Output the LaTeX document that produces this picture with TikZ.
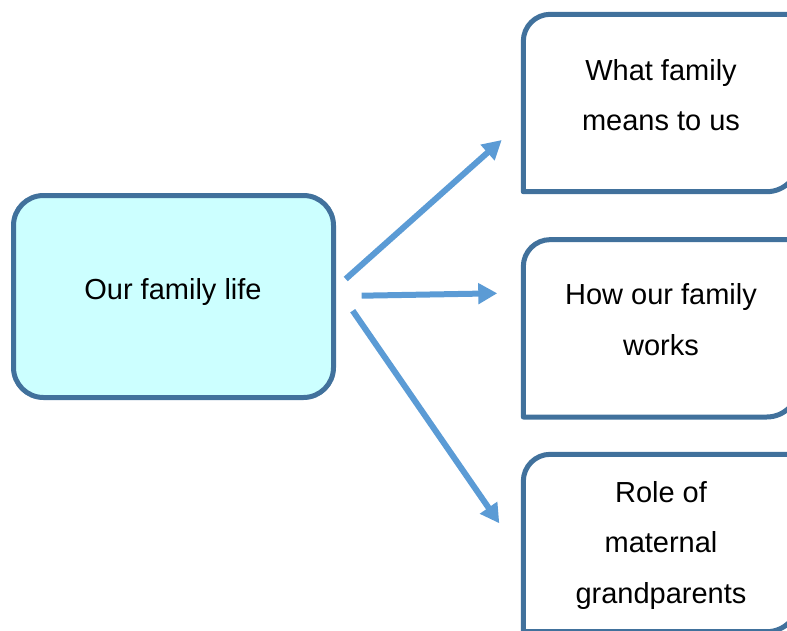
\documentclass[tikz,border=0pt]{standalone}
\usepackage{fontspec}
\setmainfont{Liberation Sans}
\usetikzlibrary{arrows.meta}

\definecolor{boxedge}{RGB}{65,113,156}
\definecolor{boxfill}{RGB}{204,255,255}
\definecolor{arrowblue}{RGB}{91,155,213}

% outline with a rounded top-left and bottom-right corner
\newcommand\drawcornerbox[1]{%
  \draw[boxline] (#1.south west) -- ([yshift=-27pt]#1.north west)
    arc[start angle=180,end angle=90,radius=27pt] -- (#1.north east)
    -- ([yshift=32pt]#1.south east)
    arc[start angle=0,end angle=-90,radius=32pt] -- cycle;}

\begin{document}
\begin{tikzpicture}[x=1pt,y=1pt,
  boxline/.style={draw=boxedge,line width=5pt,line join=round},
  mainbox/.style={boxline,fill=boxfill,rounded corners=30pt,
    minimum width=320pt,minimum height=202pt,inner sep=0pt},
  sidebox/.style={minimum width=275pt,minimum height=177pt,inner sep=0pt},
  label/.style={font=\fontsize{29}{50.5}\selectfont,align=center,inner sep=0pt,anchor=base},
  link/.style={draw=arrowblue,line width=6pt,
    -{Triangle[length=19pt,width=20pt]}}]
\useasboundingbox (0,0) rectangle (787,-630);
\clip (0,0) rectangle (787,-630);

% central topic
\node[mainbox] (main) at (173.5,-296.5) {};
\node[label] (mainlabel) at (173,-299) {Our family life};

% three sub-topics on the right
\node[sidebox] (b1) at (661,-103) {};
\node[sidebox] (b2) at (661,-328.3) {};
\node[sidebox] (b3) at (661,-543) {};
\drawcornerbox{b1}
\drawcornerbox{b2}
\drawcornerbox{b3}
% labels are placed by the baseline of their last line
\node[label] (l1) at (661,-130.7) {What family\\means to us};
\node[label] (l2) at (661,-355) {How our family\\works};
\node[label] (l3) at (661,-603.3) {Role of\\maternal\\grandparents};

% arrow ends
\coordinate (s1) at (345.7,-279);
\coordinate (e1) at (501.7,-140);
\coordinate (s2) at (361.7,-295.7);
\coordinate (e2) at (497.3,-293.3);
\coordinate (s3) at (352.7,-310.7);
\coordinate (e3) at (499.3,-523.3);
\draw[link] (s1) -- (e1);
\draw[link] (s2) -- (e2);
\draw[link] (s3) -- (e3);
\end{tikzpicture}
\end{document}
